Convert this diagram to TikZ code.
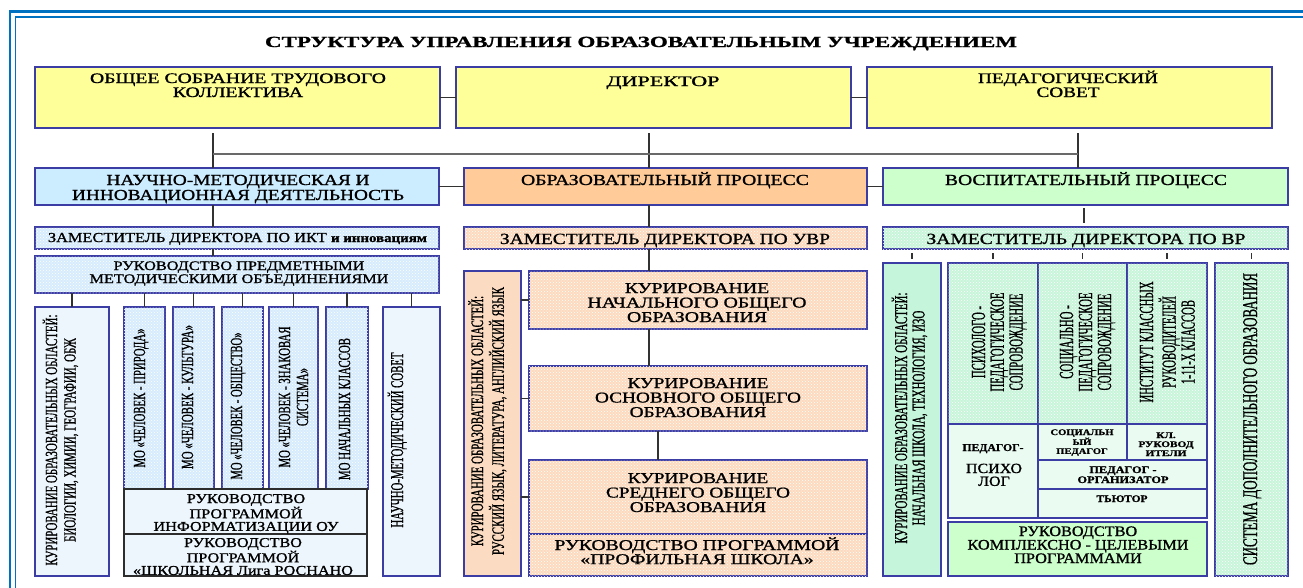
\documentclass[tikz,border=0pt]{standalone}
\usepackage{fontspec}
\setmainfont{Liberation Serif}[FakeBold=1.0]
\usepackage{graphicx}
\usetikzlibrary{patterns}

\definecolor{bcol}{RGB}{60,60,165}
\definecolor{lcol}{RGB}{50,50,50}
\definecolor{buscol}{RGB}{105,105,105}
\definecolor{frcol}{RGB}{0,112,192}
\definecolor{yel}{RGB}{255,255,153}
\definecolor{lblue}{RGB}{204,236,255}
\definecolor{orng}{RGB}{255,204,153}
\definecolor{lgrn}{RGB}{204,255,204}
\definecolor{pblue}{RGB}{214,236,252}
\definecolor{ppeach}{RGB}{252,218,190}
\definecolor{pgreen}{RGB}{200,245,218}
\definecolor{sblue}{RGB}{238,246,253}
\definecolor{speach}{RGB}{251,219,193}
\definecolor{mint}{RGB}{197,245,219}
\definecolor{smint}{RGB}{234,251,242}

\newsavebox\fitbox
\newlength\fitw
\newcommand{\ft}[2]{\sbox\fitbox{\begin{tabular}[t]{@{}c@{}}#2\end{tabular}}%
  \setlength\fitw{\wd\fitbox}%
  \pgfmathsetmacro\fitr{#1/\fitw}%
  \scalebox{\fitr}[1]{\usebox\fitbox}}
\newcommand{\fs}[2]{\fontsize{#1}{#2}\selectfont}
\newcommand{\bx}[6]{\node[#6, anchor=north west, minimum width={(#4)-(#2)}, minimum height={(#5)-(#3)}] (#1) at (#2,#3) {};}

\tikzset{
  box/.style={draw=bcol, line width=1.3pt, inner sep=0pt, outer sep=0pt},
  dbox/.style={draw=lcol!90!black, line width=1.3pt, inner sep=0pt, outer sep=0pt, fill=sblue},
  pat/.style={fill=#1, postaction={pattern=crosshatch dots, pattern color=white}},
  txt/.style={inner sep=0pt, outer sep=0pt, anchor=base},
  rtxt/.style={inner sep=0pt, outer sep=0pt, anchor=base, rotate=90},
  conn/.style={draw=lcol, line width=1.3pt},
  bus/.style={draw=buscol, line width=2pt},
}

\begin{document}
\begin{tikzpicture}[x=1pt,y=-1pt]
\useasboundingbox (0,0) rectangle (1303,587);
% frame
\draw[frcol, line width=2.6pt] (10,600) -- (10,11.5) -- (1320,11.5);
\draw[frcol, line width=1.6pt] (15.5,600) -- (15.5,17) -- (1320,17);

% title
\node[txt, font=\bfseries\fs{15.5}{16}] (title) at (641,47) {\ft{752}{СТРУКТУРА УПРАВЛЕНИЯ ОБРАЗОВАТЕЛЬНЫМ УЧРЕЖДЕНИЕМ}};

% top row
\bx{sob}{35}{67}{440}{128}{box, fill=yel}
\bx{dir}{456}{67}{851}{128}{box, fill=yel}
\bx{ped}{867}{67}{1272}{128}{box, fill=yel}
\node[txt, font=\fs{14.5}{14}] (tsob) at (238,83) {\ft{296}{ОБЩЕЕ СОБРАНИЕ ТРУДОВОГО\\КОЛЛЕКТИВА}};
\node[txt, font=\fs{14.5}{14}] (tdir) at (663,86) {\ft{113}{ДИРЕКТОР}};
\node[txt, font=\fs{14.5}{14}] (tped) at (1068,83) {\ft{180}{ПЕДАГОГИЧЕСКИЙ\\СОВЕТ}};

% second row
\bx{nmd}{35}{168}{439}{205}{box, fill=lblue}
\bx{obr}{464}{168}{867}{205}{box, fill=orng}
\bx{vos}{883}{168}{1288}{205}{box, fill=lgrn}
\node[txt, font=\fs{15.3}{15}] (tnmd) at (238,185) {\ft{332}{НАУЧНО-МЕТОДИЧЕСКАЯ И\\ИННОВАЦИОННАЯ ДЕЯТЕЛЬНОСТЬ}};
\node[txt, font=\fs{15.3}{15}] (tobr) at (665,185) {\ft{288}{ОБРАЗОВАТЕЛЬНЫЙ ПРОЦЕСС}};
\node[txt, font=\fs{15.3}{15}] (tvos) at (1086,185) {\ft{282}{ВОСПИТАТЕЛЬНЫЙ ПРОЦЕСС}};

% deputies
\bx{zikt}{35}{227}{439}{249}{box, pat=pblue}
\bx{zuvr}{464}{227}{867}{249}{box, pat=ppeach}
\bx{zvr}{883}{227}{1288}{249}{box, pat=pgreen}
\node[txt, font=\fs{13.7}{14}] (tzikt) at (237.5,242) {\ft{379}{ЗАМЕСТИТЕЛЬ ДИРЕКТОРА ПО ИКТ {\bfseries\fs{12.5}{14}и инновациям}}};
\node[txt, font=\fs{15.5}{15}] (tzuvr) at (665,244) {\ft{330}{ЗАМЕСТИТЕЛЬ ДИРЕКТОРА ПО УВР}};
\node[txt, font=\fs{15.5}{15}] (tzvr) at (1086,244) {\ft{319}{ЗАМЕСТИТЕЛЬ ДИРЕКТОРА ПО ВР}};

% left column
\bx{rpm}{35}{256}{439}{293}{box, pat=pblue}
\node[txt, font=\fs{13}{13}] (trpm) at (239,270) {\ft{299}{РУКОВОДСТВО ПРЕДМЕТНЫМИ\\МЕТОДИЧЕСКИМИ ОБЪЕДИНЕНИЯМИ}};
\bx{kA}{35}{307}{109}{576}{box, fill=sblue}
\bx{moa}{124}{307}{165}{489}{box, pat=pblue}
\bx{mob}{173}{307}{214}{489}{box, pat=pblue}
\bx{moc}{222}{307}{263}{489}{box, pat=pblue}
\bx{mod}{269}{307}{318}{489}{box, pat=pblue}
\bx{moe}{326}{307}{368}{489}{box, pat=pblue}
\bx{nms}{383}{307}{440}{576}{box, fill=sblue}
\bx{inf}{124}{489}{367}{534}{dbox}
\bx{ros}{124}{534}{367}{576}{dbox}
\node[rtxt, font=\fs{17}{18.5}] (tkA) at (57,440) {\ft{251}{КУРИРОВАНИЕ ОБРАЗОВАТЕЛЬНЫХ ОБЛАСТЕЙ:\\БИОЛОГИИ, ХИМИИ, ГЕОГРАФИИ, ОБЖ}};
\node[rtxt, font=\fs{17}{18}] (tmoa) at (145,398) {\ft{139}{МО «ЧЕЛОВЕК - ПРИРОДА»}};
\node[rtxt, font=\fs{17}{18}] (tmob) at (193,397) {\ft{144}{МО «ЧЕЛОВЕК - КУЛЬТУРА»}};
\node[rtxt, font=\fs{17}{18}] (tmoc) at (242,406) {\ft{147}{МО «ЧЕЛОВЕК - ОБЩЕСТВО»}};
\node[rtxt, font=\fs{17}{18}] (tmod) at (290,397) {\ft{141}{МО «ЧЕЛОВЕК - ЗНАКОВАЯ\\СИСТЕМА»}};
\node[rtxt, font=\fs{17}{18}] (tmoe) at (350,409) {\ft{142}{МО НАЧАЛЬНЫХ КЛАССОВ}};
\node[rtxt, font=\fs{18}{18}] (tnms) at (403,440) {\ft{175}{НАУЧНО-МЕТОДИЧЕСКИЙ СОВЕТ}};
\node[txt, font=\fs{13.5}{12.5}] (tinf) at (246,503) {\ft{185}{РУКОВОДСТВО\\ПРОГРАММОЙ\\ИНФОРМАТИЗАЦИИ ОУ}};
\node[txt, font=\fs{13.5}{12.5}] (tros) at (243,547) {\ft{220}{РУКОВОДСТВО\\ПРОГРАММОЙ\\«ШКОЛЬНАЯ Лига РОСНАНО}};

% middle column
\bx{kr}{464}{271}{521}{576}{box, fill=speach}
\bx{kn}{529}{271}{867}{329}{box, pat=ppeach}
\bx{ko}{529}{366}{867}{431}{box, pat=ppeach}
\bx{ks}{529}{460}{867}{534}{box, pat=ppeach}
\bx{pf}{529}{534}{867}{576}{box, pat=ppeach}
\node[rtxt, font=\fs{17.5}{20}] (tkr) at (483,421) {\ft{268}{КУРИРОВАНИЕ ОБРАЗОВАТЕЛЬНЫХ ОБЛАСТЕЙ:\\РУССКИЙ ЯЗЫК, ЛИТЕРАТУРА, АНГЛИЙСКИЙ ЯЗЫК}};
\node[txt, font=\fs{15}{14.5}] (tkn) at (697,293) {\ft{219}{КУРИРОВАНИЕ\\НАЧАЛЬНОГО ОБЩЕГО\\ОБРАЗОВАНИЯ}};
\node[txt, font=\fs{15}{14.5}] (tko) at (698,388) {\ft{206}{КУРИРОВАНИЕ\\ОСНОВНОГО ОБЩЕГО\\ОБРАЗОВАНИЯ}};
\node[txt, font=\fs{15}{14.5}] (tks) at (698,483) {\ft{184}{КУРИРОВАНИЕ\\СРЕДНЕГО ОБЩЕГО\\ОБРАЗОВАНИЯ}};
\node[txt, font=\fs{15}{14}] (tpf) at (697,550) {\ft{285}{РУКОВОДСТВО ПРОГРАММОЙ\\«ПРОФИЛЬНАЯ ШКОЛА»}};

% right column
\bx{kR}{883}{263}{941}{576}{box, fill=mint}
\bx{psy}{948}{263}{1038}{424}{box, pat=pgreen}
\bx{soc}{1038}{263}{1127}{424}{box, pat=pgreen}
\bx{ins}{1127}{263}{1207}{424}{box, pat=pgreen}
\bx{pp}{948}{424}{1038}{518}{box, fill=smint}
\bx{sp}{1038}{424}{1127}{460}{box, fill=smint}
\bx{kl}{1127}{424}{1207}{460}{box, fill=smint}
\bx{po}{1038}{460}{1207}{489}{box, fill=smint}
\bx{tu}{1038}{489}{1207}{518}{box, fill=smint}
\bx{kcp}{948}{522}{1207}{576}{box, fill=lgrn}
\bx{sdo}{1215}{263}{1288}{576}{box, pat=pgreen}
\node[rtxt, font=\fs{18}{17.5}] (tkR) at (907,418) {\ft{251}{КУРИРОВАНИЕ ОБРАЗОВАТЕЛЬНЫХ ОБЛАСТЕЙ:\\НАЧАЛЬНАЯ ШКОЛА, ТЕХНОЛОГИЯ, ИЗО}};
\node[rtxt, font=\fs{20}{18.5}] (tpsy) at (985,342) {\ft{99}{ПСИХОЛОГО -\\ПЕДАГОГИЧЕСКОЕ\\СОПРОВОЖДЕНИЕ}};
\node[rtxt, font=\fs{20}{19}] (tsoc) at (1073,342) {\ft{99}{СОЦИАЛЬНО -\\ПЕДАГОГИЧЕСКОЕ\\СОПРОВОЖДЕНИЕ}};
\node[rtxt, font=\fs{20}{19}] (tins) at (1153,342) {\ft{121}{ИНСТИТУТ КЛАССНЫХ\\РУКОВОДИТЕЛЕЙ\\1-11-Х КЛАССОВ}};
\node[rtxt, font=\fs{21}{19}] (tsdo) at (1257,419) {\ft{292}{СИСТЕМА ДОПОЛНИТЕЛЬНОГО ОБРАЗОВАНИЯ}};
\node[txt, font=\bfseries\fs{10.5}{12}] (tpp1) at (993,451) {\ft{61}{ПЕДАГОГ-}};
\node[txt, font=\fs{14}{12}] (tpp2) at (994,473) {\ft{56}{ПСИХО\\ЛОГ}};
\node[txt, font=\bfseries\fs{8.5}{9}] (tsp) at (1082,435) {\ft{63}{СОЦИАЛЬН\\ЫЙ\\ПЕДАГОГ}};
\node[txt, font=\bfseries\fs{8.5}{9}] (tkl) at (1166,438) {\ft{55}{КЛ.\\РУКОВОД\\ИТЕЛИ}};
\node[txt, font=\bfseries\fs{10}{10}] (tpo) at (1123,473) {\ft{91}{ПЕДАГОГ -\\ОРГАНИЗАТОР}};
\node[txt, font=\bfseries\fs{10}{10}] (ttu) at (1122,502) {\ft{51}{ТЬЮТОР}};
\node[txt, font=\fs{14.5}{13}] (tkcp) at (1078,536) {\ft{221}{РУКОВОДСТВО\\КОМПЛЕКСНО - ЦЕЛЕВЫМИ\\ПРОГРАММАМИ}};

% connectors: top
\coordinate (b1) at (213,154);
\coordinate (b2) at (649,154);
\coordinate (b3) at (1078,154);
\coordinate (b4) at (1084,154);
\coordinate (m2) at (658,154);
\draw[conn] (sob.east) -- (dir.west);
\draw[conn] (dir.east) -- (ped.west);
\draw[conn, shorten <=5pt] (sob.south -| b1) -- (nmd.north -| b1);
\draw[conn, shorten <=5pt] (dir.south -| b2) -- (obr.north -| b2);
\draw[conn, shorten <=5pt] (ped.south -| b3) -- (vos.north -| b3);
\draw[bus] (b1) -- (b3);
\draw[conn] (nmd.east) -- (obr.west);
\draw[conn] (obr.east) -- (vos.west);
% left column
\draw[conn] (nmd.south -| b1) -- (zikt.north -| b1);
\draw[conn] (zikt.south -| b1) -- (rpm.north -| b1);
\foreach \n in {kA,moa,mob,moc,mod,moe,nms}
  \draw[conn] (rpm.south -| \n.north) -- (\n.north);
% middle column
\draw[conn] (obr.south -| b2) -- (zuvr.north -| b2);
\draw[conn] (zuvr.south -| b2) -- (kn.north -| b2);
\draw[conn] (kn.south -| b2) -- (ko.north -| b2);
\draw[conn] (ko.south -| m2) -- (ks.north -| m2);
\draw[conn] (kr.east |- kn.west) -- (kn.west);
\draw[conn] (kr.east |- ko.west) -- (ko.west);
\draw[conn] (kr.east |- ks.west) -- (ks.west);
% right column
\draw[conn, shorten <=3pt, shorten >=4pt] (vos.south -| b4) -- (zvr.north -| b4);
\foreach \n in {kR,psy,soc,ins,sdo}
  \draw[conn, shorten <=4pt, shorten >=4pt] (zvr.south -| \n.north) -- (\n.north);
\end{tikzpicture}
\end{document}
